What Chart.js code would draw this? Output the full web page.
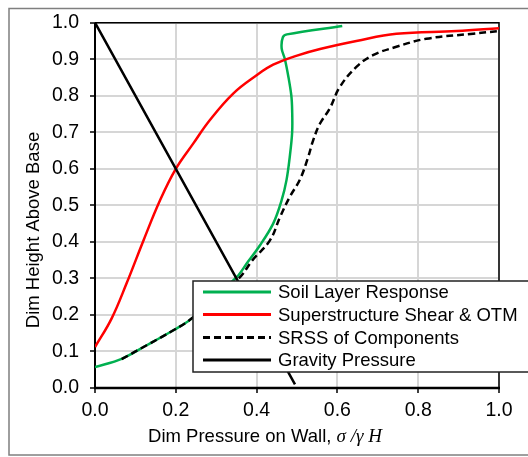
<!DOCTYPE html>
<html lang="en">
<head>
<meta charset="utf-8"/>
<title>Dim Pressure on Wall</title>
<style>
  body, html { margin: 0; padding: 0; background: #fff; }
  #wrap { width: 528px; height: 457px; }
</style>
</head>
<body>
<div id="wrap"><canvas id="chart" width="528" height="457"></canvas></div>
<script src="https://cdn.jsdelivr.net/npm/chart.js"></script>
<script>
  // values
  const soilX = [0, 0.066, 0.128, 0.194, 0.239, 0.351, 0.375, 0.408, 0.441, 0.462, 0.474, 0.482, 0.488, 0.488, 0.486, 0.479, 0.470, 0.462, 0.465, 0.475, 0.612];
  const soilY = [0.057, 0.080, 0.117, 0.158, 0.190, 0.304, 0.340, 0.390, 0.450, 0.514, 0.569, 0.632, 0.700, 0.760, 0.800, 0.850, 0.900, 0.930, 0.960, 0.968, 0.991];

  const superX = [0, 0.041, 0.078, 0.120, 0.161, 0.200, 0.243, 0.284, 0.342, 0.400, 0.441, 0.500, 0.557, 0.647, 0.746, 0.895, 1.0];
  const superY = [0.112, 0.190, 0.286, 0.404, 0.514, 0.600, 0.669, 0.733, 0.806, 0.856, 0.885, 0.910, 0.928, 0.950, 0.970, 0.977, 0.985];

  const srssX = [0.066, 0.128, 0.194, 0.239, 0.356, 0.390, 0.433, 0.458, 0.482, 0.507, 0.527, 0.540, 0.557, 0.581, 0.606, 0.647, 0.688, 0.746, 0.820, 0.936, 1.0];
  const srssY = [0.079, 0.117, 0.158, 0.190, 0.300, 0.350, 0.404, 0.468, 0.523, 0.570, 0.630, 0.678, 0.724, 0.765, 0.824, 0.879, 0.911, 0.934, 0.956, 0.970, 0.977];

  const srssAxisX = [0, 0];
  const srssAxisY = [0, 1];

  const gravX = [0, 0.35, 0.495];
  const gravY = [1.0, 0.30, 0.01];

  const xTicks = [0, 0.2, 0.4, 0.6, 0.8, 1.0];
  const yTicks = [0, 0.1, 0.2, 0.3, 0.4, 0.5, 0.6, 0.7, 0.8, 0.9, 1.0];

  const toPts = (xs, ys) => xs.map((x, i) => ({ x: x, y: ys[i] }));

  const FONT = 'Liberation Sans, Arial, sans-serif';

  // border, frame, axis titles and the boxed legend
  const decor = {
    id: 'decor',
    beforeDatasetsDraw(chart) {
      const { ctx, chartArea: a } = chart;
      ctx.save();
      ctx.strokeStyle = '#000';
      ctx.lineWidth = 1.5;
      ctx.beginPath();
      ctx.moveTo(a.left, a.top); ctx.lineTo(a.right, a.top); ctx.lineTo(a.right, a.bottom);
      ctx.stroke();
      ctx.lineWidth = 2;
      ctx.beginPath();
      ctx.moveTo(a.left, a.top); ctx.lineTo(a.left, a.bottom);
      ctx.stroke();
      ctx.lineWidth = 2.5;
      ctx.beginPath();
      ctx.moveTo(a.left - 1, a.bottom); ctx.lineTo(a.right + 1, a.bottom);
      ctx.stroke();
      ctx.restore();
    },
    afterDatasetsDraw(chart) {
      const { ctx } = chart;
      ctx.save();
      // outer border
      ctx.strokeStyle = '#7f7f7f';
      ctx.lineWidth = 1.5;
      ctx.strokeRect(9, 8.5, 540, 446.5);

      // y title
      ctx.fillStyle = '#000';
      ctx.font = '18.5px ' + FONT;
      ctx.textAlign = 'center';
      ctx.textBaseline = 'middle';
      ctx.save();
      ctx.translate(34, 230);
      ctx.rotate(-Math.PI / 2);
      ctx.fillText('Dim Height Above Base', 0, 0);
      ctx.restore();

      // x title, plain part then italic symbols
      const p1 = 'Dim Pressure on Wall, ';
      const p2 = 'σ /γ H';
      ctx.font = '18.5px ' + FONT;
      const w1 = ctx.measureText(p1).width;
      ctx.font = 'italic 19px Liberation Serif, Times New Roman, serif';
      const w2 = ctx.measureText(p2).width;
      let x0 = 265 - (w1 + w2) / 2;
      ctx.textAlign = 'left';
      ctx.font = '18.5px ' + FONT;
      ctx.fillText(p1, x0, 437);
      ctx.font = 'italic 19px Liberation Serif, Times New Roman, serif';
      ctx.fillText(p2, x0 + w1, 437);

      // legend
      const bx = 193, by = 281, bh = 91;
      ctx.fillStyle = '#fff';
      ctx.fillRect(bx, by, 400, bh);
      ctx.strokeStyle = '#222';
      ctx.lineWidth = 1.5;
      ctx.strokeRect(bx, by, 400, bh);
      const rows = [292, 314.5, 337.5, 360];
      const shown = chart.data.datasets.filter(d => !d.hideInLegend);
      shown.forEach((ds, i) => {
        const y = rows[i];
        ctx.strokeStyle = ds.borderColor;
        ctx.lineWidth = 3;
        ctx.setLineDash(ds.borderDash || []);
        ctx.beginPath();
        ctx.moveTo(203, y); ctx.lineTo(271, y);
        ctx.stroke();
        ctx.setLineDash([]);
        ctx.fillStyle = '#000';
        ctx.font = '18.5px ' + FONT;
        ctx.textBaseline = 'middle';
        ctx.fillText(ds.label, 278, y + 1);
      });
      ctx.restore();
    }
  };

  new Chart(document.getElementById('chart').getContext('2d'), {
    type: 'scatter',
    data: {
      datasets: [
        {
          label: 'Soil Layer Response',
          data: toPts(soilX, soilY),
          borderColor: '#00b050',
          borderWidth: 2.5,
          tension: 0.35,
          order: 3
        },
        {
          label: 'Superstructure Shear & OTM',
          data: toPts(superX, superY),
          borderColor: '#ff0000',
          borderWidth: 2.5,
          tension: 0.4,
          order: 2
        },
        {
          label: 'SRSS of Components',
          data: toPts(srssX, srssY),
          borderColor: '#000',
          borderWidth: 2.5,
          borderDash: [7, 4],
          tension: 0.4,
          order: 1
        },
        {
          label: 'Gravity Pressure',
          data: toPts(gravX, gravY),
          borderColor: '#000',
          borderWidth: 2.5,
          tension: 0,
          order: 0
        },
        {
          label: 'SRSS axis',
          hideInLegend: true,
          data: toPts(srssAxisX, srssAxisY),
          borderColor: '#000',
          borderWidth: 2,
          borderDash: [7, 4],
          tension: 0,
          order: 4
        }
      ]
    },
    options: {
      responsive: false,
      animation: false,
      layout: { padding: { left: 0, right: 29, top: 22, bottom: 0 } },
      datasets: { scatter: { showLine: true, pointRadius: 0, pointHoverRadius: 0, fill: false } },
      plugins: {
        legend: { display: false },
        tooltip: { enabled: false }
      },
      scales: {
        x: {
          type: 'linear',
          min: 0, max: 1,
          afterBuildTicks: s => { s.ticks = xTicks.map(v => ({ value: v })); },
          afterFit: s => { s.height = 69; },
          ticks: {
            color: '#000',
            font: { family: FONT, size: 19.5 },
            padding: 6,
            maxRotation: 0,
            callback: v => Number(v).toFixed(1)
          },
          grid: { color: '#d6d6d6', lineWidth: 2, tickLength: 5, tickColor: '#000', tickWidth: 1.5 },
          border: { display: false }
        },
        y: {
          type: 'linear',
          min: 0, max: 1,
          afterBuildTicks: s => { s.ticks = yTicks.map(v => ({ value: v })); },
          afterFit: s => { s.width = 95; },
          ticks: {
            color: '#000',
            font: { family: FONT, size: 19.5 },
            padding: 11,
            callback: v => Number(v).toFixed(1)
          },
          grid: { color: '#d6d6d6', lineWidth: 2, tickLength: 5, tickColor: '#000', tickWidth: 1.5 },
          border: { display: false }
        }
      }
    },
    plugins: [decor]
  });
</script>
</body>
</html>
